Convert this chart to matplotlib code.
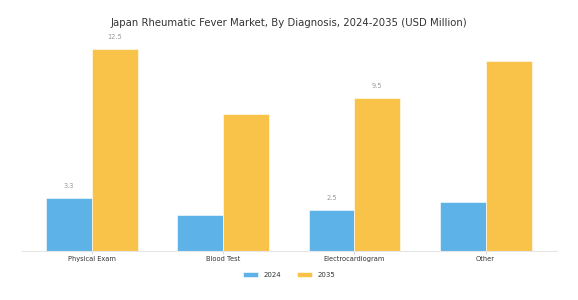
import matplotlib
matplotlib.use("Agg")
import matplotlib.pyplot as plt
import numpy as np

categories = ["Physical Exam", "Blood Test", "Electrocardiogram", "Other"]
series_names = ["2024", "2035"]
values_2024 = [3.3, 2.2, 2.5, 3.0]
values_2035 = [12.5, 8.5, 9.5, 11.8]
labels_2024 = ["3.3", "", "2.5", ""]
labels_2035 = ["12.5", "", "9.5", ""]

colors = ["#5db3e8", "#f9c34a"]

fig = plt.figure(figsize=(5.78, 3.0), dpi=100)
ax = fig.add_axes([22/578, 1 - 250.7/300, (556.7 - 22)/578, 217.5/300])

x = np.arange(len(categories))
w = 0.35
b1 = ax.bar(x - w/2, values_2024, w, color=colors[0], label=series_names[0],
            edgecolor="white", linewidth=0.4)
b2 = ax.bar(x + w/2, values_2035, w, color=colors[1], label=series_names[1],
            edgecolor="white", linewidth=0.4)

for bars, labs in ((b1, labels_2024), (b2, labels_2035)):
    for rect, lab in zip(bars, labs):
        if lab:
            ax.annotate(lab, (rect.get_x() + rect.get_width()/2, rect.get_height()),
                        xytext=(0, 6.5), textcoords="offset points",
                        ha="center", va="bottom", fontsize=4.8, color="#999999")

ax.set_xlim(-0.534, 3.542)
ax.set_ylim(0, 13.5)
ax.set_xticks(x)
ax.set_xticklabels(categories, fontsize=4.8, color="#333333")
ax.tick_params(axis="x", length=2, width=0.5, color="#cccccc", pad=1.5)
ax.set_yticks([])
for s in ("top", "right", "left"):
    ax.spines[s].set_visible(False)
ax.spines["bottom"].set_color("#e6e6e6")
ax.spines["bottom"].set_linewidth(0.8)

fig.text(0.5, 1 - 23.3/300, "Japan Rheumatic Fever Market, By Diagnosis, 2024-2035 (USD Million)",
         ha="center", va="center", fontsize=7.3, color="#333333")

leg = fig.legend(loc="center", bbox_to_anchor=(289.3/578, 1 - 275/300), ncol=2,
                 frameon=False, fontsize=5, handlelength=2.2, handleheight=0.7,
                 columnspacing=2.2, handletextpad=0.8)
for t in leg.get_texts():
    t.set_color("#333333")

fig.savefig("out.png", dpi=100, facecolor="white")
